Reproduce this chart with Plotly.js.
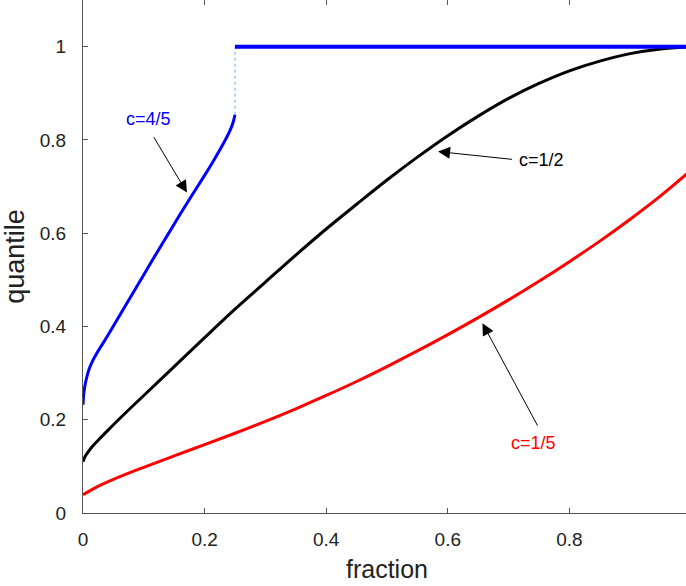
<!DOCTYPE html>
<html>
<head>
<meta charset="utf-8">
<script src="https://cdn.plot.ly/plotly-3.0.1.min.js"></script>
<style>
html, body { margin: 0; padding: 0; overflow: hidden; background: #fff; }
#chart { width: 700px; height: 586px; }
</style>
</head>
<body>
<div id="chart"></div>
<script>
// c = 4/5 (blue)
const blueX = [0, 0.001, 0.003, 0.006, 0.01, 0.015, 0.022, 0.03, 0.04, 0.06, 0.08, 0.1, 0.12, 0.14, 0.16, 0.18, 0.2, 0.215, 0.23, 0.24, 0.246, 0.25];
const blueY = [0.232, 0.252, 0.272, 0.290, 0.308, 0.324, 0.341, 0.358, 0.379, 0.423, 0.467, 0.511, 0.555, 0.598, 0.641, 0.683, 0.724, 0.756, 0.790, 0.815, 0.834, 0.854];
const blueFlatX = [0.25, 1];
const blueFlatY = [1, 1];
const blueJumpX = [0.25, 0.25];
const blueJumpY = [0.854, 1];

// c = 1/2 (black)
const blackX = [0, 0.003, 0.008, 0.015, 0.025, 0.04, 0.06, 0.1, 0.15, 0.2, 0.25, 0.3, 0.35, 0.4, 0.45, 0.5, 0.55, 0.6, 0.65, 0.7, 0.75, 0.8, 0.85, 0.9, 0.95, 1];
const blackY = [0.11, 0.12, 0.13, 0.142, 0.156, 0.176, 0.202, 0.252, 0.314, 0.376, 0.437, 0.495, 0.553, 0.609, 0.662, 0.714, 0.763, 0.809, 0.851, 0.889, 0.921, 0.948, 0.969, 0.985, 0.995, 1.0];

// c = 1/5 (red)
const redX = [0, 0.02, 0.05, 0.1, 0.15, 0.2, 0.25, 0.3, 0.35, 0.4, 0.45, 0.5, 0.55, 0.6, 0.65, 0.7, 0.75, 0.8, 0.85, 0.9, 0.95, 1];
const redY = [0.039, 0.054, 0.072, 0.098, 0.1225, 0.1465, 0.171, 0.1965, 0.2235, 0.252, 0.282, 0.314, 0.3475, 0.3825, 0.419, 0.457, 0.497, 0.539, 0.583, 0.630, 0.680, 0.735];

// tick labels
const xTickVals = [0, 0.2, 0.4, 0.6, 0.8, 1];
const xTickText = ['0', '0.2', '0.4', '0.6', '0.8', '1'];
const yTickVals = [0, 0.2, 0.4, 0.6, 0.8, 1];
const yTickText = ['0', '0.2', '0.4', '0.6', '0.8', '1'];

// curve labels and their arrows
const labelNames = ['c=4/5', 'c=1/2', 'c=1/5'];
const labelPos = [[0.107, 0.844], [0.754, 0.756], [0.741, 0.15]];
const arrowTail = [[0.115, 0.809], [0.708, 0.758], [0.749, 0.184]];
const arrowTip = [[0.171, 0.687], [0.584, 0.775], [0.657, 0.407]];
const labelColors = ['#0000ff', '#000000', '#ff0000'];

const traces = [
  {x: blueJumpX, y: blueJumpY, mode: 'lines', line: {color: '#66aaff', width: 1, dash: 'dot'}, hoverinfo: 'skip'},
  {x: blackX, y: blackY, mode: 'lines', line: {color: '#000000', width: 3, shape: 'spline', smoothing: 1}},
  {x: redX, y: redY, mode: 'lines', line: {color: '#ff0000', width: 3, shape: 'spline', smoothing: 1}},
  {x: blueX, y: blueY, mode: 'lines', line: {color: '#0000ff', width: 3, shape: 'spline', smoothing: 1}},
  {x: blueFlatX, y: blueFlatY, mode: 'lines', line: {color: '#0000ff', width: 4}}
];

const annotations = [];
for (let i = 0; i < labelNames.length; i++) {
  annotations.push({
    x: labelPos[i][0], y: labelPos[i][1], xref: 'x', yref: 'y',
    text: labelNames[i], showarrow: false,
    font: {family: 'Liberation Sans, Arial, sans-serif', size: 18, color: labelColors[i]}
  });
  annotations.push({
    x: arrowTip[i][0], y: arrowTip[i][1], xref: 'x', yref: 'y',
    ax: arrowTail[i][0], ay: arrowTail[i][1], axref: 'x', ayref: 'y',
    text: '', showarrow: true, arrowhead: 2, arrowsize: 2.4, arrowwidth: 1,
    arrowcolor: '#000000', standoff: 0, startstandoff: 0
  });
}

const tickFont = {family: 'Liberation Sans, Arial, sans-serif', size: 19, color: '#222222'};

const layout = {
  width: 700, height: 586,
  margin: {l: 83, r: 9, t: 0, b: 73},
  paper_bgcolor: '#ffffff', plot_bgcolor: '#ffffff',
  showlegend: false,
  xaxis: {
    range: [0, 1], tickvals: xTickVals, ticktext: xTickText,
    ticks: 'inside', ticklen: 5, tickcolor: '#555555', tickwidth: 1,
    showline: true, linecolor: '#555555', linewidth: 1, mirror: 'ticks',
    showgrid: false, zeroline: false, tickfont: tickFont, ticklabelstandoff: 9,
    title: {text: 'fraction', font: {family: 'Liberation Sans, Arial, sans-serif', size: 25, color: '#222222'}, standoff: 11},
    automargin: false
  },
  yaxis: {
    range: [0, 1.1], tickvals: yTickVals, ticktext: yTickText,
    ticks: 'inside', ticklen: 5, tickcolor: '#555555', tickwidth: 1,
    showline: true, linecolor: '#555555', linewidth: 1, mirror: 'ticks',
    showgrid: false, zeroline: false, tickfont: tickFont, ticklabelstandoff: 12,
    title: {text: 'quantile', font: {family: 'Liberation Sans, Arial, sans-serif', size: 27, color: '#222222'}, standoff: 12},
    automargin: false
  },
  annotations: annotations
};

Plotly.newPlot('chart', traces, layout, {displayModeBar: false, staticPlot: true});
</script>
</body>
</html>
